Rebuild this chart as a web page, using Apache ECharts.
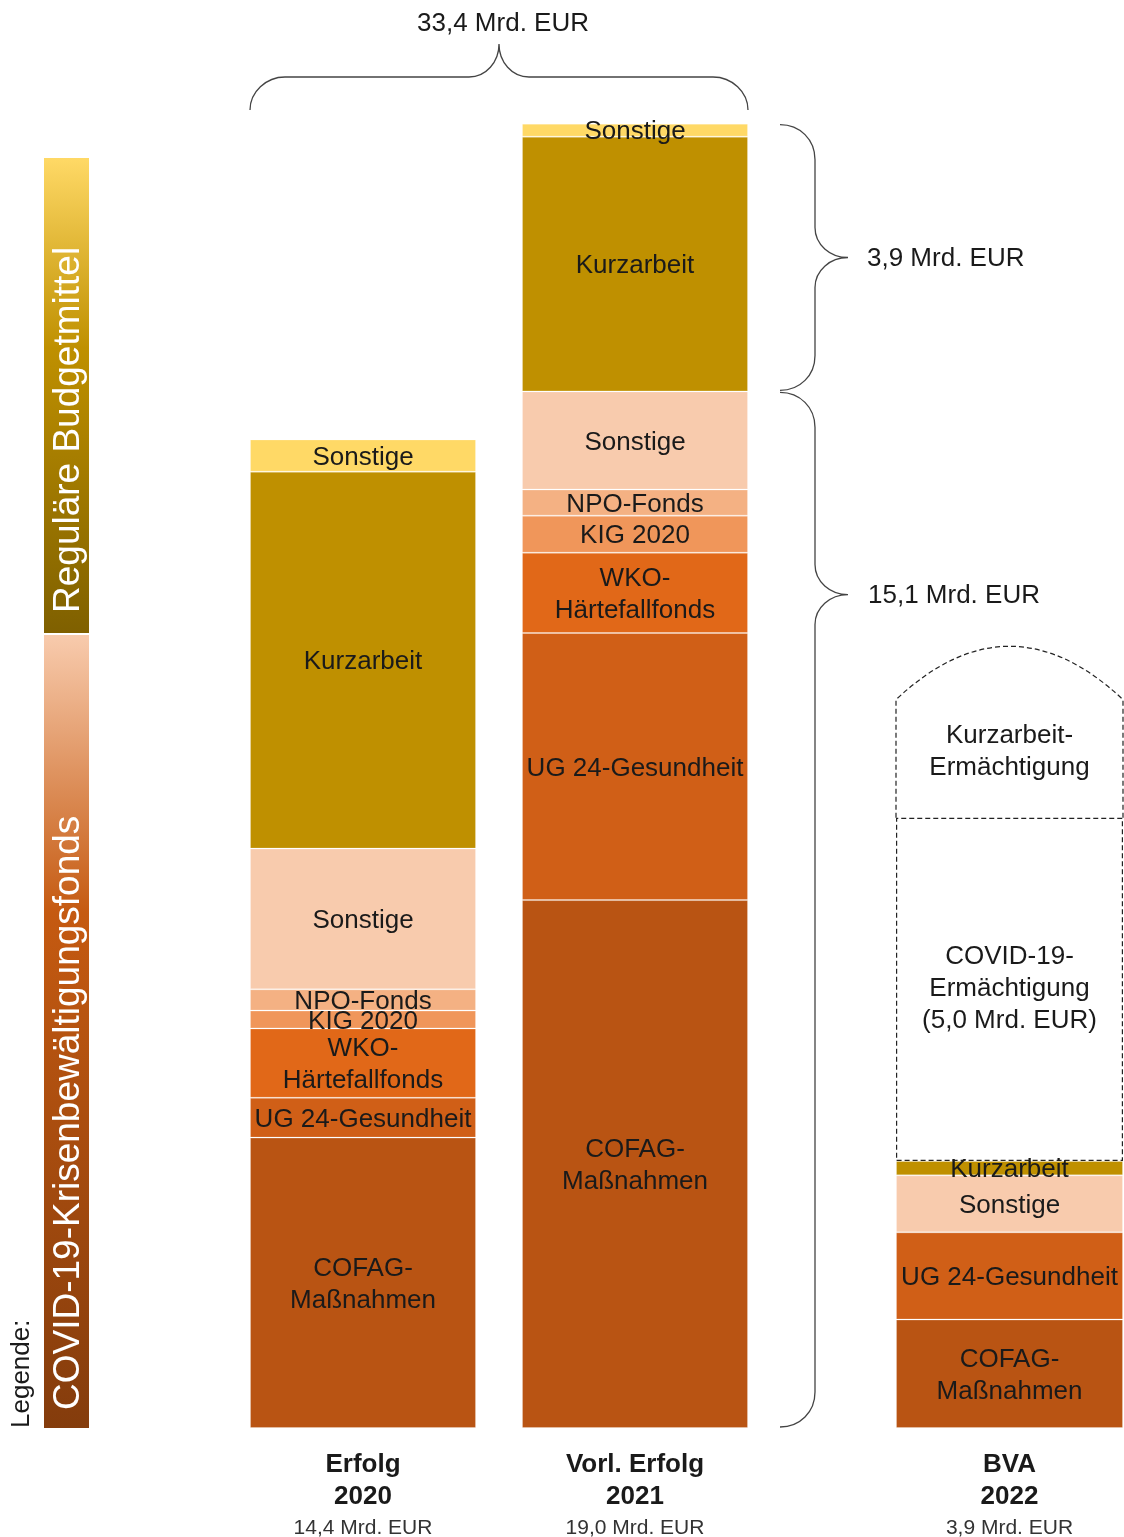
<!DOCTYPE html>
<html>
<head>
<meta charset="utf-8">
<script src="https://cdn.jsdelivr.net/npm/echarts@6/dist/echarts.min.js"></script>
<style>
  html, body { margin: 0; padding: 0; background: #fff; }
  #chart { width: 1124px; height: 1537px; }
</style>
</head>
<body>
<div id="chart"></div>
<script>
// Budget segments, listed from the bottom of each column to the top
const segmentLabels = ['COFAG-\nMaßnahmen', 'UG 24-Gesundheit', 'WKO-\nHärtefallfonds', 'KIG 2020', 'NPO-Fonds', 'Sonstige', 'Kurzarbeit', 'Sonstige'];
const segmentFund = ['covid', 'covid', 'covid', 'covid', 'covid', 'covid', 'regular', 'regular'];
const segmentColors = ['#B95413', '#D05F17', '#E16818', '#F0965A', '#F4B183', '#F8CBAD', '#BF9000', '#FFD966'];

// Columns (Mrd. EUR)
const columnNames = ['Erfolg\n2020', 'Vorl. Erfolg\n2021', 'BVA\n2022'];
const erfolg2020 = [4.23, 0.58, 1.01, 0.26, 0.31, 2.05, 5.49, 0.47];
const erfolg2021 = [7.69, 3.89, 1.17, 0.54, 0.38, 1.43, 3.71, 0.19];
const bva2022    = [1.58, 1.27, null, null, null, 0.83, 0.21, null];
const columnValues = [erfolg2020, erfolg2021, bva2022];

// Authorisations in the 2022 budget, stacked (dashed) on top of the last column
const authLabels = ['COVID-19-\nErmächtigung', 'Kurzarbeit-\nErmächtigung'];
const authValues = [5.0, 1.72];

// Value axis range
const yMax = 20;

// Layout
const FONT = '"Liberation Sans", Arial, sans-serif';
const GRID_LEFT = [250, 522, 896];
const GRID_WIDTH = [226, 226, 227];
const GRID_TOP = 55, GRID_BOTTOM = 109;

const sum = arr => arr.reduce((a, v) => a + (v || 0), 0);
const fmt = v => (Math.round(v * 10) / 10).toFixed(1).replace('.', ',');
const linear = stops => ({ type: 'linear', x: 0, y: 0, x2: 0, y2: 1, colorStops: stops });

// Curly brace shapes used for the group totals
const BraceRight = echarts.graphic.extendShape({
  shape: { x0: 0, yTop: 0, yBot: 0, yTip: 0 },
  buildPath(ctx, s) {
    const xs = s.x0 + 35, xt = s.x0 + 68, r = 35, rt = 30;
    ctx.moveTo(s.x0, s.yTop);
    ctx.bezierCurveTo(s.x0 + 20, s.yTop, xs, s.yTop + 15, xs, s.yTop + r);
    ctx.lineTo(xs, s.yTip - rt);
    ctx.bezierCurveTo(xs, s.yTip - 13, xs + 15, s.yTip, xt, s.yTip);
    ctx.bezierCurveTo(xs + 15, s.yTip, xs, s.yTip + 13, xs, s.yTip + rt);
    ctx.lineTo(xs, s.yBot - r);
    ctx.bezierCurveTo(xs, s.yBot - 15, s.x0 + 20, s.yBot, s.x0, s.yBot);
  }
});
const BraceTop = echarts.graphic.extendShape({
  shape: { x1: 0, x2: 0, yEnd: 0, yLine: 0, yTip: 0, xTip: 0 },
  buildPath(ctx, s) {
    ctx.moveTo(s.x1, s.yEnd);
    ctx.bezierCurveTo(s.x1, s.yEnd - 18, s.x1 + 16, s.yLine, s.x1 + 35, s.yLine);
    ctx.lineTo(s.xTip - 30, s.yLine);
    ctx.bezierCurveTo(s.xTip - 13, s.yLine, s.xTip, s.yLine - 15, s.xTip, s.yTip);
    ctx.bezierCurveTo(s.xTip, s.yLine - 15, s.xTip + 13, s.yLine, s.xTip + 30, s.yLine);
    ctx.lineTo(s.x2 - 35, s.yLine);
    ctx.bezierCurveTo(s.x2 - 16, s.yLine, s.x2, s.yEnd - 18, s.x2, s.yEnd);
  }
});
echarts.graphic.registerShape('braceRight', BraceRight);
echarts.graphic.registerShape('braceTop', BraceTop);

const grids = GRID_LEFT.map((l, i) => ({
  left: l, width: GRID_WIDTH[i], top: GRID_TOP, bottom: GRID_BOTTOM,
  containLabel: false, outerBoundsMode: 'none'
}));

const xAxes = columnNames.map((name, i) => {
  const parts = name.split('\n');
  return {
    type: 'category', gridIndex: i, data: [name],
    axisLine: { show: false }, axisTick: { show: false },
    axisLabel: {
      margin: 21,
      formatter: () => `{b|${parts[0]}}\n{b|${parts[1]}}\n{s|${fmt(sum(columnValues[i]))} Mrd. EUR}`,
      rich: {
        b: { fontFamily: FONT, fontSize: 26, fontWeight: 'bold', color: '#1a1a1a', lineHeight: 32 },
        s: { fontFamily: FONT, fontSize: 21, color: '#333', lineHeight: 31 }
      }
    }
  };
});

const yAxes = columnNames.map((_, i) => ({
  type: 'value', gridIndex: i, min: 0, max: yMax, show: false, splitLine: { show: false }
}));

const labelStyle = {
  show: true, position: 'inside', offset: [0, 2], fontFamily: FONT, fontSize: 26, lineHeight: 32, color: '#1a1a1a'
};

const series = [];
columnValues.forEach((vals, c) => {
  vals.forEach((v, s) => {
    series.push({
      type: 'bar', name: segmentLabels[s], xAxisIndex: c, yAxisIndex: c, stack: 'col' + c,
      barWidth: '100%', z: 3,
      data: [v],
      itemStyle: { color: segmentColors[s], borderColor: 'rgba(255,255,255,0.22)', borderWidth: 1 },
      label: Object.assign({}, labelStyle, { formatter: () => segmentLabels[s] }),
      silent: true
    });
  });
});

// COVID-19 authorisation: dashed box stacked on the 2022 column
series.push({
  type: 'bar', name: 'COVID-19-Ermächtigung', xAxisIndex: 2, yAxisIndex: 2, stack: 'col2',
  barWidth: '100%', z: 2,
  data: [authValues[0]],
  itemStyle: { color: '#fff', borderColor: '#222', borderWidth: 1.2, borderType: [5, 3] },
  label: Object.assign({}, labelStyle, { offset: [0, 0], formatter: () => `${authLabels[0]}\n(${fmt(authValues[0])} Mrd. EUR)` }),
  silent: true
});

// Kurzarbeit authorisation: dashed box with a rounded roof on top
const authBase = sum(bva2022) + authValues[0];
series.push({
  type: 'custom', name: 'Kurzarbeit-Ermächtigung', xAxisIndex: 2, yAxisIndex: 2, z: 4,
  data: [[0, authBase, authBase + authValues[1]]],
  encode: { x: 0, y: [1, 2] },
  renderItem: (params, api) => {
    const pBase = api.coord([api.value(0), api.value(1)]);
    const pTop = api.coord([api.value(0), api.value(2)]);
    const w = api.size([1, 0])[0];
    const left = pBase[0] - w / 2, right = pBase[0] + w / 2, cx = pBase[0];
    const rise = w * 0.235;
    const path = `M${left},${pBase[1]} L${left},${pTop[1]} Q${cx},${pTop[1] - 2 * rise} ${right},${pTop[1]} L${right},${pBase[1]}`;
    return {
      type: 'group',
      children: [
        { type: 'path', shape: { pathData: path }, style: { fill: 'none', stroke: '#222', lineWidth: 1.2, lineDash: [5, 3] } },
        { type: 'text', style: { text: authLabels[1], x: cx, y: (pBase[1] + pTop[1]) / 2 - 7, align: 'center', verticalAlign: 'middle',
            font: `26px ${FONT}`, lineHeight: 32, fill: '#1a1a1a' } }
      ]
    };
  },
  silent: true
});

const chart = echarts.init(document.getElementById('chart'), null, { renderer: 'canvas' });
chart.setOption({
  animation: false,
  backgroundColor: '#fff',
  textStyle: { fontFamily: FONT },
  grid: grids, xAxis: xAxes, yAxis: yAxes, series: series
});

// ---- Annotations: braces, totals and legend ----
const yPix = v => chart.convertToPixel({ yAxisIndex: 1 }, v);

const covid2021 = sum(erfolg2021.filter((_, i) => segmentFund[i] === 'covid'));
const regular2021 = sum(erfolg2021.filter((_, i) => segmentFund[i] === 'regular'));
const total20_21 = sum(erfolg2020) + sum(erfolg2021);

const yBottom = yPix(0), yCovidTop = yPix(covid2021), yAllTop = yPix(covid2021 + regular2021);
const braceX = GRID_LEFT[1] + GRID_WIDTH[1] + 32;
const tipRegular = (yAllTop + yCovidTop) / 2;
const tipCovid = yCovidTop + 0.196 * (yBottom - yCovidTop);
const topLeft = GRID_LEFT[0], topRight = GRID_LEFT[1] + GRID_WIDTH[1];
const topTipX = (topLeft + topRight) / 2;

const lineStyle = { fill: 'none', stroke: '#444', lineWidth: 1.3 };
const textStyle = (t, x, y, align) => ({ text: t, x, y, align: align || 'left', verticalAlign: 'middle', font: `26px ${FONT}`, fill: '#1a1a1a' });

const legendTop = 158, legendSplit = 634, legendBottom = 1428, legendX = 44, legendW = 45;

chart.setOption({
  graphic: [
    { type: 'braceTop', shape: { x1: topLeft, x2: topRight, yEnd: 110, yLine: 77, yTip: 44, xTip: topTipX }, style: lineStyle, silent: true },
    { type: 'text', style: textStyle(`${fmt(total20_21)} Mrd. EUR`, topTipX + 4, 24, 'center'), silent: true },
    { type: 'braceRight', shape: { x0: braceX, yTop: yAllTop + 1, yBot: yCovidTop - 1, yTip: tipRegular }, style: lineStyle, silent: true },
    { type: 'text', style: textStyle(`${fmt(regular2021)} Mrd. EUR`, braceX + 87, tipRegular + 1), silent: true },
    { type: 'braceRight', shape: { x0: braceX, yTop: yCovidTop + 1, yBot: yBottom - 1, yTip: tipCovid }, style: lineStyle, silent: true },
    { type: 'text', style: textStyle(`${fmt(covid2021)} Mrd. EUR`, braceX + 88, tipCovid + 1), silent: true },

    // Legend bars
    { type: 'rect', shape: { x: legendX, y: legendTop, width: legendW, height: legendSplit - legendTop - 1 },
      style: { fill: linear([
        { offset: 0, color: '#FFD966' }, { offset: 0.4, color: '#BF9000' }, { offset: 1, color: '#7F6000' }]) }, silent: true },
    { type: 'rect', shape: { x: legendX, y: legendSplit + 1, width: legendW, height: legendBottom - legendSplit - 1 },
      style: { fill: linear([
        { offset: 0, color: '#F8CBAD' }, { offset: 0.35, color: '#C55A11' }, { offset: 1, color: '#843C0C' }]) }, silent: true },
    { type: 'text', x: legendX + legendW / 2 + 2, y: legendSplit - 21, rotation: Math.PI / 2,
      style: { text: 'Reguläre Budgetmittel', align: 'left', verticalAlign: 'middle', font: `37px ${FONT}`, fill: '#fff' }, silent: true },
    { type: 'text', x: legendX + legendW / 2 + 2, y: legendBottom - 18, rotation: Math.PI / 2,
      style: { text: 'COVID-19-Krisenbewältigungsfonds', align: 'left', verticalAlign: 'middle', font: `37px ${FONT}`, fill: '#fff' }, silent: true },
    { type: 'text', x: 22, y: legendBottom, rotation: Math.PI / 2,
      style: { text: 'Legende:', align: 'left', verticalAlign: 'middle', font: `26px ${FONT}`, fill: '#1a1a1a' }, silent: true }
  ]
});
</script>
</body>
</html>
